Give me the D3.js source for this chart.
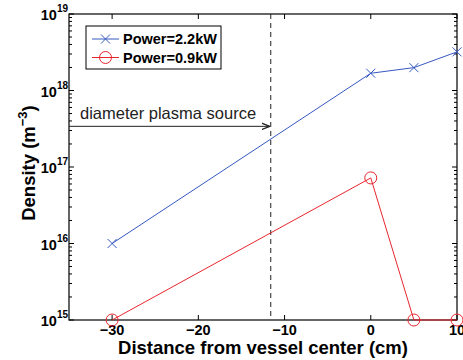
<!DOCTYPE html>
<html>
<head>
<meta charset="utf-8">
<script src="https://cdn.jsdelivr.net/npm/d3@7"></script>
<style>
body { margin: 0; background: #fff; }
text { font-family: "Liberation Sans", Arial, sans-serif; }
</style>
</head>
<body>
<div id="content"></div>
<script>
const width = 463;
const height = 360;

// data
const distance = [-30, 0, 5, 10];
const power22 = [1e16, 1.68e18, 1.99e18, 3.2e18];
const power09 = [1e15, 7.2e16, 1e15, 1e15];
const seriesNames = ['Power=2.2kW', 'Power=0.9kW'];
const xTicks = [-30, -20, -10, 0, 10];
const yTicks = [1e15, 1e16, 1e17, 1e18, 1e19];
const sourceEdge = -11.6;
const arrowLevel = 3.4e17;

const axLeft = 69, axRight = 457, axTop = 14, axBottom = 320;

const x = d3.scaleLinear().domain([-35, 10]).range([axLeft, axRight]);
const y = d3.scaleLog().domain([1e15, 1e19]).range([axBottom, axTop]);

const fig = d3.select('#content')
    .append('svg')
    .attr('width', width)
    .attr('height', height);

fig.append('rect')
    .attr('width', width)
    .attr('height', height)
    .attr('fill', '#fff');

// ticks, inside on all four sides
const tickLen = 5;
const ax = fig.append('g').attr('stroke', '#000').attr('stroke-width', 1);
xTicks.forEach(t => {
    ax.append('line').attr('x1', x(t)).attr('x2', x(t)).attr('y1', axBottom).attr('y2', axBottom - tickLen);
    ax.append('line').attr('x1', x(t)).attr('x2', x(t)).attr('y1', axTop).attr('y2', axTop + tickLen);
});
const minor = [];
for (let e = 15; e < 19; e++) {
    for (let m = 1; m < 10; m++) minor.push(m * Math.pow(10, e));
}
minor.push(1e19);
minor.forEach(v => {
    const isMajor = Math.abs(Math.log10(v) - Math.round(Math.log10(v))) < 1e-9;
    const len = isMajor ? tickLen : 3;
    ax.append('line').attr('x1', axLeft).attr('x2', axLeft + len).attr('y1', y(v)).attr('y2', y(v));
    ax.append('line').attr('x1', axRight).attr('x2', axRight - len).attr('y1', y(v)).attr('y2', y(v));
});

// box
fig.append('rect')
    .attr('x', axLeft).attr('y', axTop)
    .attr('width', axRight - axLeft).attr('height', axBottom - axTop)
    .attr('fill', 'none').attr('stroke', '#000').attr('stroke-width', 1.2);

// x tick labels
fig.append('g').selectAll('text')
    .data(xTicks)
    .join('text')
    .attr('x', d => x(d))
    .attr('y', 335)
    .attr('text-anchor', 'middle')
    .attr('font-size', 14.5)
    .attr('font-weight', 'bold')
    .text(d => d < 0 ? '\u2212' + Math.abs(d) : d);

// y tick labels
const yl = fig.append('g').selectAll('text')
    .data(yTicks)
    .join('text')
    .attr('x', 68)
    .attr('y', d => y(d) + 6)
    .attr('text-anchor', 'end')
    .attr('font-size', 14.5)
    .attr('font-weight', 'bold');
yl.append('tspan').text('10');
yl.append('tspan').attr('dy', -8).attr('font-size', 10).text(d => Math.round(Math.log10(d)));

// axis labels
fig.append('text')
    .attr('x', 263).attr('y', 354)
    .attr('text-anchor', 'middle')
    .attr('font-size', 18.5).attr('font-weight', 'bold')
    .text('Distance from vessel center (cm)');

const ylab = fig.append('text')
    .attr('transform', 'translate(35,163) rotate(-90)')
    .attr('text-anchor', 'middle')
    .attr('font-size', 18.5).attr('font-weight', 'bold');
ylab.append('tspan').text('Density (m');
ylab.append('tspan').attr('dy', -8).attr('font-size', 13).text('\u22123');
ylab.append('tspan').attr('dy', 8).text(')');

// dashed source line
fig.append('line')
    .attr('x1', x(sourceEdge)).attr('x2', x(sourceEdge))
    .attr('y1', axTop).attr('y2', axBottom)
    .attr('stroke', '#222').attr('stroke-width', 1)
    .attr('stroke-dasharray', '5,4');

// arrow + annotation
fig.append('defs').append('marker')
    .attr('id', 'arr').attr('viewBox', '0 0 10 10')
    .attr('refX', 10).attr('refY', 5)
    .attr('markerWidth', 8).attr('markerHeight', 8)
    .attr('markerUnits', 'userSpaceOnUse')
    .attr('orient', 'auto')
    .append('path').attr('d', 'M0,1 L10,5 L0,9').attr('fill', 'none').attr('stroke', '#222').attr('stroke-width', 1.5);
fig.append('line')
    .attr('x1', axLeft).attr('x2', x(sourceEdge) - 1)
    .attr('y1', y(arrowLevel)).attr('y2', y(arrowLevel))
    .attr('stroke', '#222').attr('stroke-width', 1)
    .attr('marker-end', 'url(#arr)');
fig.append('text')
    .attr('x', 80).attr('y', y(arrowLevel) - 7)
    .attr('font-size', 16.5)
    .attr('fill', '#222')
    .text('diameter plasma source');

// series
const line = d3.line().x(d => x(d[0])).y(d => y(d[1]));
const blue = '#3658c0', red = '#e8262e';

const s1 = distance.map((d, i) => [d, power22[i]]);
const s2 = distance.map((d, i) => [d, power09[i]]);

fig.append('path').datum(s1).attr('d', line).attr('fill', 'none').attr('stroke', blue).attr('stroke-width', 1);
fig.append('path').datum(s2).attr('d', line).attr('fill', 'none').attr('stroke', red).attr('stroke-width', 1);

function cross(g, cx, cy, c) {
    const r = 4.5;
    g.append('path')
        .attr('d', `M${cx - r},${cy - r}L${cx + r},${cy + r}M${cx - r},${cy + r}L${cx + r},${cy - r}`)
        .attr('stroke', c).attr('stroke-width', 1).attr('fill', 'none');
}
function circ(g, cx, cy, c) {
    g.append('circle').attr('cx', cx).attr('cy', cy).attr('r', 6)
        .attr('fill', 'none').attr('stroke', c).attr('stroke-width', 1);
}
const mk = fig.append('g');
s1.forEach(d => cross(mk, x(d[0]), y(d[1]), blue));
s2.forEach(d => circ(mk, x(d[0]), y(d[1]), red));

// legend
const lg = fig.append('g');
lg.append('rect')
    .attr('x', 86).attr('y', 26).attr('width', 135).attr('height', 43)
    .attr('fill', '#fff').attr('stroke', '#000').attr('stroke-width', 1);
const rows = [39, 57.5];
const colors = [blue, red];
seriesNames.forEach((n, i) => {
    lg.append('line').attr('x1', 92).attr('x2', 119).attr('y1', rows[i]).attr('y2', rows[i])
        .attr('stroke', colors[i]).attr('stroke-width', 1);
    if (i === 0) cross(lg, 105.5, rows[i], colors[i]);
    else circ(lg, 105.5, rows[i], colors[i]);
    lg.append('text').attr('x', 123).attr('y', rows[i] + 5)
        .attr('font-size', 14.5).attr('font-weight', 'bold')
        .text(n);
});
</script>
</body>
</html>
